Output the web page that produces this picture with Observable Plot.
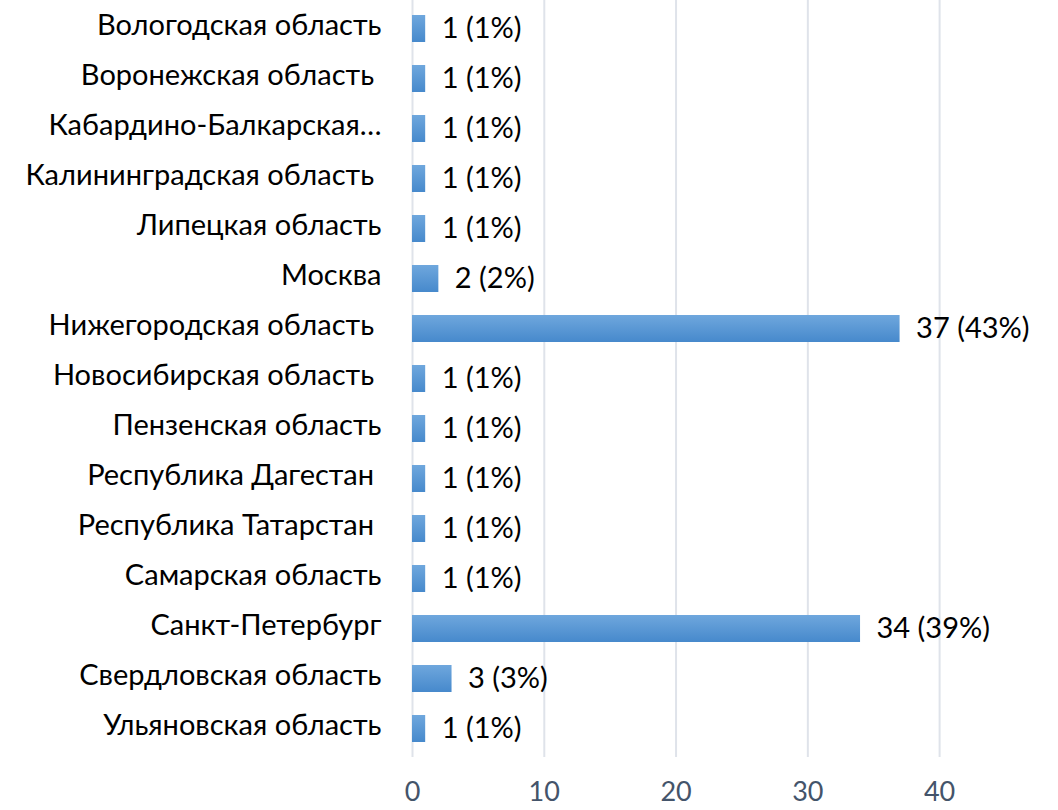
<!DOCTYPE html>
<html>
<head>
<meta charset="utf-8">
<script src="https://cdn.jsdelivr.net/npm/d3@7"></script>
<script src="https://cdn.jsdelivr.net/npm/@observablehq/plot@0.6"></script>
<style>
  html, body { margin: 0; padding: 0; background: #fff; }
  #chart svg text { white-space: pre; }
</style>
</head>
<body>
<div id="chart"></div>
<script>
const regions = [
  "Вологодская область",
  "Воронежская область ",
  "Кабардино-Балкарская…",
  "Калининградская область ",
  "Липецкая область",
  "Москва",
  "Нижегородская область ",
  "Новосибирская область ",
  "Пензенская область",
  "Республика Дагестан ",
  "Республика Татарстан ",
  "Самарская область",
  "Санкт-Петербург",
  "Свердловская область",
  "Ульяновская область"
];
const counts = [1, 1, 1, 1, 1, 2, 37, 1, 1, 1, 1, 1, 34, 3, 1];
const percents = [1, 1, 1, 1, 1, 2, 43, 1, 1, 1, 1, 1, 39, 3, 1];
const xTicks = [0, 10, 20, 30, 40];

const data = regions.map((r, i) => ({
  region: r,
  count: counts[i],
  label: `${counts[i]} (${percents[i]}%)`
}));

const font = "Lato, 'Open Sans', sans-serif";

const chart = Plot.plot({
  width: 1058,
  height: 810,
  marginLeft: 412,
  marginRight: 53,
  marginTop: 0,
  marginBottom: 53,
  style: { fontFamily: font, fontSize: "29px", color: "#000", background: "#fff" },
  x: { domain: [0, 45], ticks: xTicks, label: null, axis: null },
  y: { domain: regions, label: null, paddingInner: 0.466, paddingOuter: 0.21, axis: null },
  marks: [
    Plot.gridX(xTicks, { stroke: "#dfe3ea", strokeOpacity: 1, strokeWidth: 2 }),
    Plot.axisX(xTicks, {
      anchor: "bottom", tickSize: 0, tickPadding: 24, label: null,
      fontSize: 27, fill: "#44546a", tickFormat: d => String(d)
    }),
    Plot.axisY({
      anchor: "left", tickSize: 0, tickPadding: 31, label: null,
      fontSize: 29, fill: "#000", dy: -3
    }),
    Plot.barX(data, { y: "region", x: "count", fill: "url(#barGrad)" }),
    Plot.text(data, {
      y: "region", x: "count", text: "label", textAnchor: "start",
      dx: 16, dy: 0, fontSize: 29, fill: "#000"
    })
  ]
});

const svg = d3.select(chart);
const defs = svg.insert("defs", ":first-child");
const grad = defs.append("linearGradient")
  .attr("id", "barGrad").attr("x1", 0).attr("y1", 0).attr("x2", 0).attr("y2", 1);
grad.append("stop").attr("offset", "0%").attr("stop-color", "#6fa7dd");
grad.append("stop").attr("offset", "100%").attr("stop-color", "#4689cc");

document.getElementById("chart").appendChild(chart);
</script>
</body>
</html>
